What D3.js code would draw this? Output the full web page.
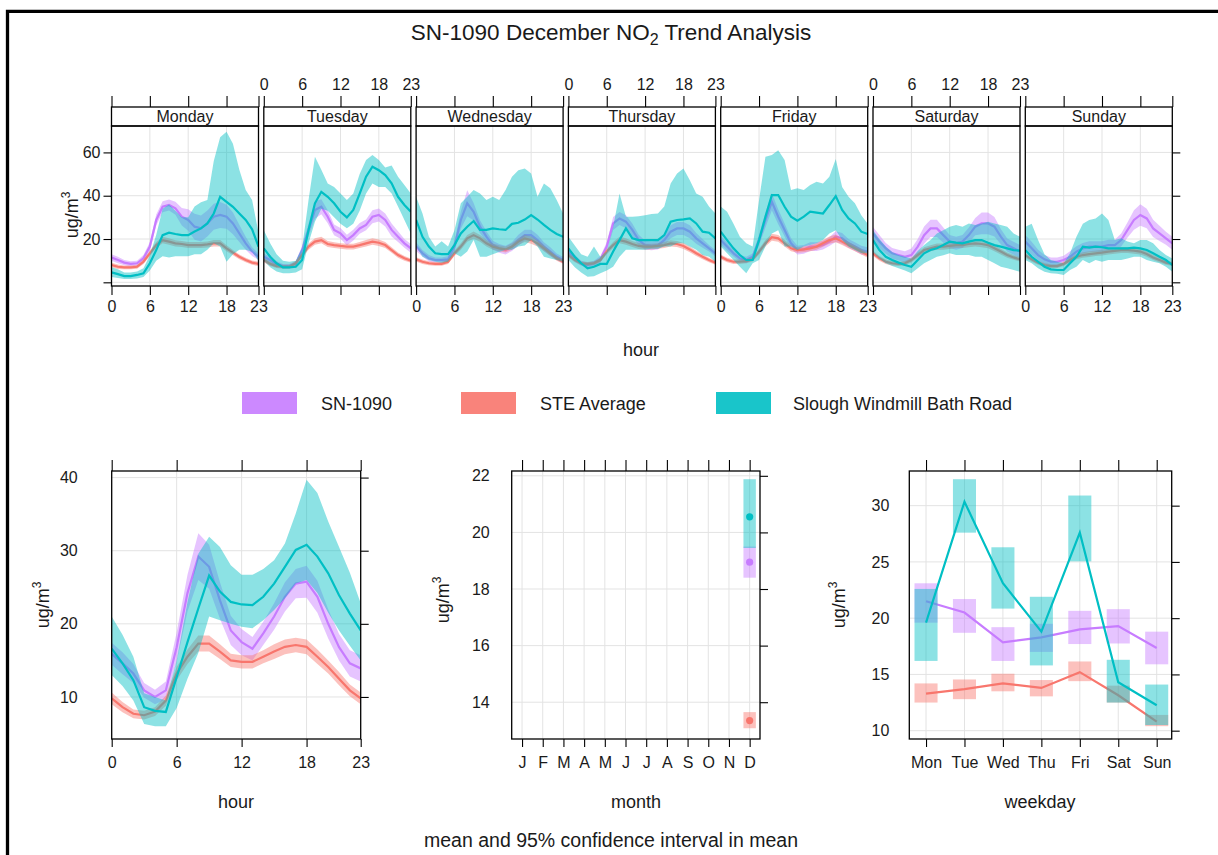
<!DOCTYPE html>
<html><head><meta charset="utf-8">
<script src="https://cdn.jsdelivr.net/npm/d3@7"></script>
<style>
body{margin:0;background:#fff}
svg{display:block}
text{font-family:"Liberation Sans",Arial,sans-serif;fill:#1a1a1a}
</style>
</head><body><svg id="c" width="1218" height="855"></svg>
<script>
// ---------------- DATA ----------------
const seriesNames = ["SN-1090", "STE Average", "Slough Windmill Bath Road"];
const seriesColors = ["#C77CFF", "#F8766D", "#00BFC4"];
const days = ["Monday","Tuesday","Wednesday","Thursday","Friday","Saturday","Sunday"];
const hours = [0,1,2,3,4,5,6,7,8,9,10,11,12,13,14,15,16,17,18,19,20,21,22,23];
const hourTicks = [0,6,12,18,23];
const topYTicks = [0,20,40,60];
const topYLabels = ["","20","40","60"];

// SN-1090 by day and hour (mean, CI half width)
const snDay = [
 [11.5,10.3,9.1,8.5,8.8,11.1,16.5,28.8,34.9,35.7,34.2,30.3,28.8,25.7,24.9,27.2,30.3,31.1,30.3,27.2,22.6,18.0,14.2,11.8],
 [11.8,10.3,8.5,7.5,7.5,8.5,14.9,24.2,33.4,34.9,30.3,24.2,22.6,19.5,21.8,24.9,26.5,30.3,31.1,28.8,24.2,21.1,18.0,15.7],
 [16.5,13.4,11.1,10.3,10.3,10.6,16.5,28.8,36.5,32.6,25.7,21.1,17.2,15.7,14.9,16.5,19.5,21.8,21.8,19.5,16.5,14.2,11.8,10.3],
 [14.2,11.1,8.8,8.0,8.8,10.6,16.5,27.2,29.5,28.0,24.2,19.5,17.2,16.8,17.2,19.5,23.4,24.9,24.9,23.4,20.3,18.0,15.7,13.4],
 [19.5,16.5,13.4,11.1,10.3,11.8,19.5,28.8,37.2,30.3,24.2,18.0,14.9,15.2,16.5,16.5,17.2,18.8,21.1,20.3,18.0,16.5,14.9,14.2],
 [22.6,18.8,15.7,13.4,12.6,11.8,12.6,16.5,21.8,24.9,24.9,21.8,18.8,18.0,18.8,21.8,25.7,27.2,27.2,25.7,21.1,17.2,15.7,14.2],
 [18.8,15.7,12.6,10.6,9.5,9.5,10.3,11.8,14.2,15.7,16.5,16.5,16.5,17.2,17.2,19.5,24.2,28.8,31.1,29.5,24.9,22.6,20.3,18.0]
];
const snDayHW = [
 [1.5,1.5,1.2,1.2,1.2,1.5,2,2.5,2.5,2.5,3,4,5,6,6,6,6,6,5.5,5,4,3,2,1.5],
 [1.5,1.5,1.2,1,1,1.2,2,3,4,3.5,3,2.5,2.5,2.5,2.5,2.5,2.5,3,3,3,3,2.5,2,2],
 [2,1.5,1.5,1.2,1.2,1.5,2.5,4,6,4,3,2.5,2,2,2,2,2.5,2.5,2.5,2.5,2,2,1.5,1.5],
 [1.5,1.5,1.2,1.2,1.2,1.5,2,3,3,3,3,2.5,2,2,2,2.5,3,3,3,3,2.5,2,1.5,1.5],
 [2,2,1.5,1.5,1.5,1.5,2.5,3.5,4,3.5,3,2.5,2,2,2,2,2,2,2.5,2.5,2,2,2,2],
 [3,3,2.5,2.5,2.5,2.5,3,3.5,4,4,4,3.5,3,3,3,3.5,4,5,5,4.5,3.5,3,3,3],
 [3,3,2.5,2,2,2,2,2.5,2.5,2.5,2.5,2.5,2.5,2.5,2.5,3,3.5,4.5,5,4.5,4,3.5,3,3]
];
// STE Average by day and hour
const steDay = [
 [8.0,7.2,6.9,6.9,7.2,9.5,13.4,17.2,19.5,18.8,18.0,17.7,17.2,17.2,17.2,17.5,18.0,18.0,15.7,13.7,11.8,10.3,9.1,8.5],
 [10.3,8.5,7.5,7.2,7.2,8.8,12.6,16.5,18.8,19.5,17.7,17.2,16.8,16.5,16.5,17.2,18.0,18.8,18.3,17.2,14.9,12.6,11.1,10.0],
 [10.6,9.5,8.8,8.5,8.5,9.5,13.4,16.5,20.3,21.8,20.3,18.0,16.5,15.7,15.2,16.5,18.8,20.3,19.5,18.0,15.7,13.4,11.1,9.5],
 [12.6,10.3,8.8,8.5,8.8,10.3,14.2,17.2,19.5,18.8,17.7,16.8,16.5,16.5,16.8,17.2,18.0,17.7,16.8,15.2,13.4,11.8,10.3,9.1],
 [11.8,10.3,9.5,9.5,9.8,10.6,14.2,18.0,20.8,20.3,18.0,15.7,14.9,15.2,15.7,16.5,18.0,19.5,20.3,18.8,17.2,15.7,14.2,12.6],
 [13.4,11.1,9.5,8.8,8.5,8.8,10.3,12.6,14.9,15.7,16.5,16.5,16.8,17.2,17.2,17.7,18.0,17.7,17.2,15.7,14.2,12.6,11.5,10.6],
 [12.6,10.6,9.1,8.0,7.5,7.5,8.5,10.3,11.8,12.6,13.0,13.4,13.7,14.2,14.5,14.9,14.9,14.6,14.2,13.1,11.5,10.3,9.1,8.5]
];
const steDayHW = [
 [1.0,1.0,0.9,0.9,0.9,1.0,1.2,1.4,1.5,1.5,1.4,1.4,1.4,1.4,1.4,1.4,1.5,1.5,1.4,1.2,1.1,1.0,1.0,1.0],
 [1.0,1.0,0.9,0.9,0.9,1.0,1.2,1.4,1.5,1.5,1.4,1.3,1.3,1.3,1.3,1.4,1.5,1.5,1.5,1.4,1.3,1.2,1.1,1.0],
 [1.0,1.0,0.9,0.9,0.9,1.0,1.3,1.5,1.6,1.7,1.6,1.5,1.4,1.4,1.4,1.5,1.6,1.7,1.7,1.5,1.4,1.2,1.1,1.0],
 [1.1,1.0,0.9,0.9,0.9,1.0,1.2,1.4,1.5,1.5,1.4,1.4,1.3,1.3,1.3,1.4,1.4,1.4,1.4,1.3,1.2,1.1,1.0,1.0],
 [1.1,1.0,1.0,1.0,1.0,1.0,1.3,1.5,1.6,1.6,1.5,1.4,1.3,1.3,1.4,1.5,1.6,1.7,1.8,1.6,1.5,1.4,1.3,1.2],
 [1.2,1.1,1.0,1.0,1.0,1.0,1.1,1.2,1.3,1.4,1.4,1.4,1.4,1.4,1.4,1.5,1.5,1.5,1.5,1.4,1.3,1.2,1.1,1.0],
 [1.2,1.1,1.0,0.9,0.9,0.9,1.0,1.1,1.2,1.3,1.3,1.3,1.3,1.3,1.3,1.4,1.4,1.4,1.4,1.3,1.2,1.1,1.0,1.0]
];
// Slough Windmill Bath Road by day and hour (mean, lower, upper)
const slDay = [
 [4.6,3.8,2.9,2.9,3.4,4.2,8.8,14.9,21.8,22.9,22.3,21.8,21.8,23.5,24.9,27.2,31.8,39.5,37.2,34.9,31.8,28.8,24.5,16.5],
 [15.7,11.8,8.8,6.9,6.9,7.2,10.3,24.2,36.5,41.8,39.5,36.5,32.6,30.0,33.4,41.0,48.8,53.4,51.8,49.5,45.7,39.5,35.7,32.6],
 [28.8,21.0,16.5,13.4,13.0,13.0,17.2,22.6,25.7,28.3,24.2,24.2,24.9,24.5,24.2,27.0,27.5,29.0,31.1,29.0,26.5,24.2,22.3,21.0],
 [15.7,11.8,8.8,6.5,7.2,8.5,8.5,14.2,19.5,24.9,20.3,19.5,19.5,19.5,19.5,21.8,28.0,28.8,29.1,29.5,27.2,23.4,22.9,20.3],
 [23.4,19.5,15.7,12.6,10.3,10.3,19.5,30.3,40.3,40.3,34.9,30.3,28.5,30.3,32.6,32.2,31.8,35.7,39.8,33.4,29.5,27.2,23.4,22.3],
 [19.5,14.9,11.8,10.3,9.1,8.0,7.2,10.3,13.4,14.9,15.7,17.2,18.8,18.3,18.0,18.8,19.5,19.5,18.3,17.2,16.5,15.7,14.9,14.6],
 [14.9,11.8,9.5,7.2,6.0,5.7,5.7,8.8,11.8,16.5,16.0,16.5,16.2,15.7,15.7,15.7,15.7,16.0,15.7,14.9,13.4,11.8,10.3,8.0]
];
const slDayLo = [
 [2.5,2.0,1.5,1.5,1.8,2.5,5.5,10.0,12.0,11.5,12.0,12.0,12.0,13.0,13.0,15.0,18.0,16.5,9.5,13.0,15.0,15.0,14.0,10.0],
 [10.0,7.0,5.0,4.2,4.2,4.5,6.0,18.0,28.0,34.0,33.0,30.0,27.0,25.0,27.0,33.0,41.0,45.7,44.0,44.0,41.0,35.0,28.8,22.6],
 [16.5,11.8,10.3,9.5,9.0,9.5,13.4,11.8,14.2,19.5,11.8,11.8,13.0,14.0,15.0,15.0,16.5,17.0,19.5,16.5,11.8,11.0,10.3,9.5],
 [10.3,7.0,4.5,2.6,2.8,4.2,5.5,7.2,11.8,15.0,15.0,15.0,15.0,15.5,15.5,16.5,16.5,18.0,18.0,16.5,15.0,12.6,11.8,9.5],
 [16.5,13.4,10.3,7.2,4.2,8.8,10.3,16.5,22.6,24.0,16.5,16.5,14.9,16.5,17.2,18.0,19.5,22.6,24.0,19.5,16.5,14.9,13.4,13.4],
 [14.0,11.0,8.8,7.5,6.5,5.5,4.2,6.5,8.8,10.3,11.8,12.5,13.4,12.6,12.6,12.6,11.8,11.8,10.3,8.8,7.2,6.5,5.7,4.9],
 [10.3,8.8,6.5,4.9,4.2,4.0,3.4,5.7,7.2,10.3,8.8,10.3,9.5,10.3,10.3,10.3,11.0,11.8,11.8,10.3,9.5,8.8,7.2,4.9]
];
const slDayHi = [
 [7.0,6.0,4.5,4.5,5.0,6.5,12.5,22.0,34.0,36.0,33.0,30.0,30.0,35.0,37.0,38.0,56.0,67.0,69.5,64.0,52.0,42.6,38.0,23.0],
 [24.0,18.0,13.0,10.0,9.5,10.0,16.0,38.0,58.0,52.0,45.7,44.0,41.0,38.0,41.0,50.0,56.5,58.8,56.5,53.0,54.0,48.8,45.0,41.0],
 [39.5,31.8,21.0,16.5,19.0,16.5,24.0,36.5,39.5,42.6,41.0,38.0,39.5,38.0,42.6,48.8,51.8,52.6,50.3,39.5,45.7,43.4,38.0,31.8],
 [21.0,17.0,13.0,11.8,16.5,11.8,14.2,25.7,41.0,30.3,30.3,30.5,31.0,31.5,31.8,35.0,45.7,50.3,52.6,47.2,41.0,39.5,35.0,31.8],
 [35.0,32.6,27.0,21.0,18.0,16.5,38.0,58.0,58.8,61.0,56.5,42.6,43.4,42.6,45.0,46.5,45.7,48.8,57.0,44.0,39.5,36.5,31.0,27.0],
 [24.0,20.0,16.5,14.0,12.6,11.8,11.0,14.5,17.2,19.5,22.6,24.0,25.7,26.5,25.7,27.2,26.5,27.2,28.0,27.2,26.5,25.7,22.6,21.0],
 [25.7,27.0,19.5,13.0,10.3,9.5,8.8,13.4,21.0,27.0,28.8,29.5,31.8,28.8,19.5,20.3,18.8,18.0,19.5,19.5,18.0,14.9,12.6,11.0]
];

// Hour of day (all days)
const hourSN   = [15.9,14.6,13.2,10.9,10.0,10.9,16.8,24.2,29.2,27.8,23.2,19.1,17.5,16.6,18.7,21.0,23.7,25.5,25.75,23.7,20.0,16.8,14.6,13.9];
const hourSNhw = [1.5,1.5,1.3,1.0,1.0,1.2,2.0,2.5,3.2,3.0,2.5,2.0,1.8,1.6,1.6,1.8,2.0,2.0,2.2,2.2,2.0,1.8,1.8,1.8];
const hourSTE  = [9.8,8.6,7.7,7.5,8.0,9.5,13.2,15.5,17.3,17.3,16.2,15.0,14.8,14.8,15.5,16.2,16.85,17.1,16.85,15.5,14.1,12.5,10.9,9.8];
const hourSTEhw= [0.8,0.7,0.6,0.6,0.6,0.7,0.9,1.0,1.1,1.1,1.0,0.9,0.9,0.9,0.9,1.0,1.0,1.0,1.0,1.0,0.9,0.9,0.8,0.8];
const hourSL   = [16.6,14.6,12.3,8.6,8.1,7.95,12.7,17.5,22.1,26.6,24.4,23.0,22.65,22.55,23.7,25.5,27.8,30.1,30.8,29.2,26.9,23.9,21.4,19.1];
const hourSLlo = [13.0,11.5,9.5,6.3,6.0,6.0,8.5,12.5,16.0,21.0,20.5,20.0,19.6,19.4,20.5,21.9,23.5,25.5,26.0,24.2,21.5,19.1,17.0,15.0];
const hourSLhi = [21.0,18.5,15.5,10.5,10.0,9.5,15.0,23.0,29.6,31.9,30.5,28.0,26.7,26.7,27.5,28.7,31.0,35.1,39.7,37.9,34.0,30.5,27.0,22.8];

// Month (only December present)
const monthLabels = ["J","F","M","A","M","J","J","A","S","O","N","D"];
const monthPresent = [12];
const monthMean = [18.95, 13.35, 20.55];
const monthLo   = [18.40, 13.08, 19.45];
const monthHi   = [19.50, 13.65, 21.88];

// Weekday
const wkLabels = ["Mon","Tue","Wed","Thu","Fri","Sat","Sun"];
const wkSN   = [21.5,20.5,17.85,18.3,19.0,19.3,17.35];
const wkSNlo = [19.6,18.7,16.2,17.0,17.7,17.75,15.9];
const wkSNhi = [23.1,21.7,19.2,19.5,20.65,20.8,18.8];
const wkSTE   = [13.3,13.7,14.2,13.8,15.2,13.15,10.8];
const wkSTElo = [12.5,12.8,13.5,13.05,14.4,12.5,10.4];
const wkSTEhi = [14.2,14.55,15.06,14.5,16.15,14.0,11.4];
const wkSL   = [19.6,30.35,23.1,18.8,27.6,14.3,12.26];
const wkSLlo = [16.2,27.6,20.85,15.8,25.05,12.5,10.5];
const wkSLhi = [22.6,32.35,26.3,21.9,30.9,16.3,14.1];

// ---------------- DRAWING ----------------
const svg = d3.select("#c");
svg.append("rect").attr("width",1218).attr("height",855).attr("fill","#fff");
const FONT = '"Liberation Sans", Arial, sans-serif';
const ALPHA = 0.45;
const TICKF = 16;
let clipId = 0;

function clipRect(x, y, w, h) {
  const id = "clip" + (clipId++);
  svg.append("clipPath").attr("id", id).append("rect").attr("x", x).attr("y", y).attr("width", w).attr("height", h);
  return "url(#" + id + ")";
}
function styleAxis(g, showLabels) {
  g.attr("font-family", FONT).attr("font-size", TICKF);
  g.select(".domain").remove();
  g.selectAll(".tick line").attr("stroke", "#000").attr("stroke-width", 1.1);
  g.selectAll(".tick text").attr("fill", "#111").attr("font-size", TICKF);
  if (!showLabels) g.selectAll(".tick text").remove();
}
function grid(g, xs, ys, xv, yv) {
  g.selectAll(null).data(xv).enter().append("line")
    .attr("x1", d => xs(d)).attr("x2", d => xs(d)).attr("y1", ys.range()[0]).attr("y2", ys.range()[1])
    .attr("stroke", "#e3e3e3").attr("stroke-width", 1);
  g.selectAll(null).data(yv).enter().append("line")
    .attr("y1", d => ys(d)).attr("y2", d => ys(d)).attr("x1", xs.range()[0]).attr("x2", xs.range()[1])
    .attr("stroke", "#e3e3e3").attr("stroke-width", 1);
}
function band(g, xs, ys, xv, lo, hi, color) {
  const a = d3.area().x(i => xs(xv[i])).y0(i => ys(lo[i])).y1(i => ys(hi[i]));
  g.append("path").attr("d", a(d3.range(xv.length))).attr("fill", color).attr("fill-opacity", ALPHA).attr("stroke", "none");
}
function line(g, xs, ys, xv, m, color) {
  const l = d3.line().x(i => xs(xv[i])).y(i => ys(m[i]));
  g.append("path").attr("d", l(d3.range(xv.length))).attr("fill", "none").attr("stroke", color).attr("stroke-width", 2.2);
}
function frame(x, y, w, h) {
  svg.append("rect").attr("x", x).attr("y", y).attr("width", w).attr("height", h)
    .attr("fill", "none").attr("stroke", "#000").attr("stroke-width", 1.3);
}
function yLabel(x, y) {
  const t = svg.append("text").attr("transform", `translate(${x},${y}) rotate(-90)`)
    .attr("text-anchor", "middle").attr("font-size", 18).attr("font-family", FONT);
  t.append("tspan").text("ug/m");
  t.append("tspan").attr("dy", -8).attr("font-size", 12).text("3");
}
function xLabel(x, y, s) {
  svg.append("text").attr("x", x).attr("y", y).attr("text-anchor", "middle")
    .attr("font-size", 18).attr("font-family", FONT).text(s);
}
const sub = (arr, hw, sign) => arr.map((v, i) => v + sign * hw[i]);

// Title
const title = svg.append("text").attr("x", 611).attr("y", 40).attr("text-anchor", "middle")
  .attr("font-size", 22.5).attr("font-family", FONT);
title.append("tspan").text("SN-1090 December NO");
title.append("tspan").attr("dy", 5).attr("font-size", 16).text("2");
title.append("tspan").attr("dy", -5).text(" Trend Analysis");

// ----- Top: day x hour panels -----
const tX0 = 111.5, tStep = 152.3, tW = 147, tTop = 126, tBot = 286, sTop = 107;
const yTop = d3.scaleLinear().domain([-1.7, 72.2]).range([tBot, tTop]);
days.forEach((day, di) => {
  const left = tX0 + di * tStep;
  const xs = d3.scaleLinear().domain([0, 23]).range([left, left + tW]);
  const g = svg.append("g").attr("clip-path", clipRect(left, tTop, tW, tBot - tTop));
  grid(g, xs, yTop, [6, 12, 18], topYTicks);
  const means = [snDay[di], steDay[di], slDay[di]];
  const los = [sub(snDay[di], snDayHW[di], -1), sub(steDay[di], steDayHW[di], -1), slDayLo[di]];
  const his = [sub(snDay[di], snDayHW[di], 1), sub(steDay[di], steDayHW[di], 1), slDayHi[di]];
  for (let s = 0; s < 3; s++) {
    band(g, xs, yTop, hours, los[s], his[s], seriesColors[s]);
    line(g, xs, yTop, hours, means[s], seriesColors[s]);
  }
  // strip
  svg.append("rect").attr("x", left).attr("y", sTop).attr("width", tW).attr("height", tTop - sTop)
    .attr("fill", "#fff").attr("stroke", "#000").attr("stroke-width", 1.3);
  svg.append("text").attr("x", left + tW / 2).attr("y", tTop - 4).attr("text-anchor", "middle")
    .attr("font-size", 16).attr("font-family", FONT).text(day);
  frame(left, tTop, tW, tBot - tTop);
  // axes
  const gb = svg.append("g").attr("transform", `translate(0,${tBot})`)
    .call(d3.axisBottom(xs).tickValues(hourTicks).tickSize(9).tickSizeOuter(0).tickPadding(6));
  styleAxis(gb, di % 2 === 0);
  const gt = svg.append("g").attr("transform", `translate(0,${sTop})`)
    .call(d3.axisTop(xs).tickValues(hourTicks).tickSize(11).tickSizeOuter(0).tickPadding(6));
  styleAxis(gt, di % 2 === 1);
  if (di === 0) {
    const gl = svg.append("g").attr("transform", `translate(${left},0)`)
      .call(d3.axisLeft(yTop).tickValues(topYTicks).tickFormat((d, i) => topYLabels[i]).tickSize(8).tickSizeOuter(0).tickPadding(3));
    styleAxis(gl, true);
  }
  if (di === 6) {
    const gr = svg.append("g").attr("transform", `translate(${left + tW},0)`)
      .call(d3.axisRight(yTop).tickValues(topYTicks).tickSize(8).tickSizeOuter(0));
    styleAxis(gr, false);
  }
});
yLabel(78, 215);
xLabel(641, 356, "hour");

// Legend
const legX = [242, 461, 716], legTX = [321, 540, 793];
seriesNames.forEach((n, i) => {
  svg.append("rect").attr("x", legX[i]).attr("y", 392).attr("width", 55).attr("height", 22)
    .attr("fill", seriesColors[i]).attr("fill-opacity", 0.9);
  svg.append("text").attr("x", legTX[i]).attr("y", 410).attr("font-size", 18).attr("font-family", FONT).text(n);
});

// ----- Bottom panels -----
const bTop = 471, bBot = 739;
function bottomAxes(xs, ys, xTicks, xFmt, yTicks, labelPad) {
  const x0 = xs.range()[0], x1 = xs.range()[1];
  const gb = svg.append("g").attr("transform", `translate(0,${bBot})`)
    .call(d3.axisBottom(xs).tickValues(xTicks).tickFormat(xFmt).tickSize(8).tickSizeOuter(0).tickPadding(10));
  styleAxis(gb, true);
  const gt = svg.append("g").attr("transform", `translate(0,${bTop})`)
    .call(d3.axisTop(xs).tickValues(xTicks).tickSize(11).tickSizeOuter(0));
  styleAxis(gt, false);
  const gl = svg.append("g").attr("transform", `translate(${x0},0)`)
    .call(d3.axisLeft(ys).tickValues(yTicks).tickSize(0).tickSizeOuter(0).tickPadding(labelPad));
  styleAxis(gl, true);
  const gr = svg.append("g").attr("transform", `translate(${x1},0)`)
    .call(d3.axisRight(ys).tickValues(yTicks).tickSize(8).tickSizeOuter(0));
  styleAxis(gr, false);
  frame(x0, bTop, x1 - x0, bBot - bTop);
}

// Hour panel
{
  const xs = d3.scaleLinear().domain([0, 23]).range([111.7, 360.7]);
  const ys = d3.scaleLinear().domain([4.25, 40.9]).range([bBot, bTop]);
  const g = svg.append("g").attr("clip-path", clipRect(111.7, bTop, 249, bBot - bTop));
  grid(g, xs, ys, [6, 12, 18], [10, 20, 30, 40]);
  const means = [hourSN, hourSTE, hourSL];
  const los = [sub(hourSN, hourSNhw, -1), sub(hourSTE, hourSTEhw, -1), hourSLlo];
  const his = [sub(hourSN, hourSNhw, 1), sub(hourSTE, hourSTEhw, 1), hourSLhi];
  for (let s = 0; s < 3; s++) {
    band(g, xs, ys, hours, los[s], his[s], seriesColors[s]);
    line(g, xs, ys, hours, means[s], seriesColors[s]);
  }
  bottomAxes(xs, ys, hourTicks, d => d, [10, 20, 30, 40], 34);
  yLabel(49, 605);
  xLabel(236, 808, "hour");
}

// Month panel
{
  const xs = d3.scaleLinear().domain([0.5, 12.5]).range([511.7, 760]);
  const ys = d3.scaleLinear().domain([12.70, 22.17]).range([bBot, bTop]);
  const g = svg.append("g").attr("clip-path", clipRect(511.7, bTop, 248.3, bBot - bTop));
  const mt = monthLabels.map((d, i) => i + 1);
  grid(g, xs, ys, mt, [14, 16, 18, 20, 22]);
  for (let s = 0; s < 3; s++) {
    monthPresent.forEach(m => {
      g.append("rect").attr("x", xs(m - 0.3)).attr("width", xs(m + 0.3) - xs(m - 0.3))
        .attr("y", ys(monthHi[s])).attr("height", ys(monthLo[s]) - ys(monthHi[s]))
        .attr("fill", seriesColors[s]).attr("fill-opacity", ALPHA);
      g.append("circle").attr("cx", xs(m)).attr("cy", ys(monthMean[s])).attr("r", 3.6)
        .attr("fill", seriesColors[s]);
    });
  }
  bottomAxes(xs, ys, mt, d => monthLabels[d - 1], [14, 16, 18, 20, 22], 22);
  yLabel(449, 600);
  xLabel(636, 808, "month");
}

// Weekday panel
{
  const xs = d3.scaleLinear().domain([0.565, 7.39]).range([909.3, 1171.7]);
  const ys = d3.scaleLinear().domain([9.26, 33.08]).range([bBot, bTop]);
  const g = svg.append("g").attr("clip-path", clipRect(909.3, bTop, 262.4, bBot - bTop));
  const wt = wkLabels.map((d, i) => i + 1);
  grid(g, xs, ys, wt, [10, 15, 20, 25, 30]);
  const means = [wkSN, wkSTE, wkSL], los = [wkSNlo, wkSTElo, wkSLlo], his = [wkSNhi, wkSTEhi, wkSLhi];
  for (let s = 0; s < 3; s++) {
    g.selectAll(null).data(wt).enter().append("rect")
      .attr("x", d => xs(d - 0.3)).attr("width", d => xs(d + 0.3) - xs(d - 0.3))
      .attr("y", (d, i) => ys(his[s][i])).attr("height", (d, i) => ys(los[s][i]) - ys(his[s][i]))
      .attr("fill", seriesColors[s]).attr("fill-opacity", ALPHA);
    line(g, xs, ys, wt, means[s], seriesColors[s]);
  }
  bottomAxes(xs, ys, wt, d => wkLabels[d - 1], [10, 15, 20, 25, 30], 20);
  yLabel(845, 605);
  xLabel(1040, 808, "weekday");
}

// Footnote
svg.append("text").attr("x", 611).attr("y", 847).attr("text-anchor", "middle")
  .attr("font-size", 19.5).attr("font-family", FONT).text("mean and 95% confidence interval in mean");

// Outer frame
svg.append("path").attr("d", "M7.5,855 V11.3 H1218").attr("fill", "none").attr("stroke", "#000").attr("stroke-width", 3.3);
</script></body></html>
